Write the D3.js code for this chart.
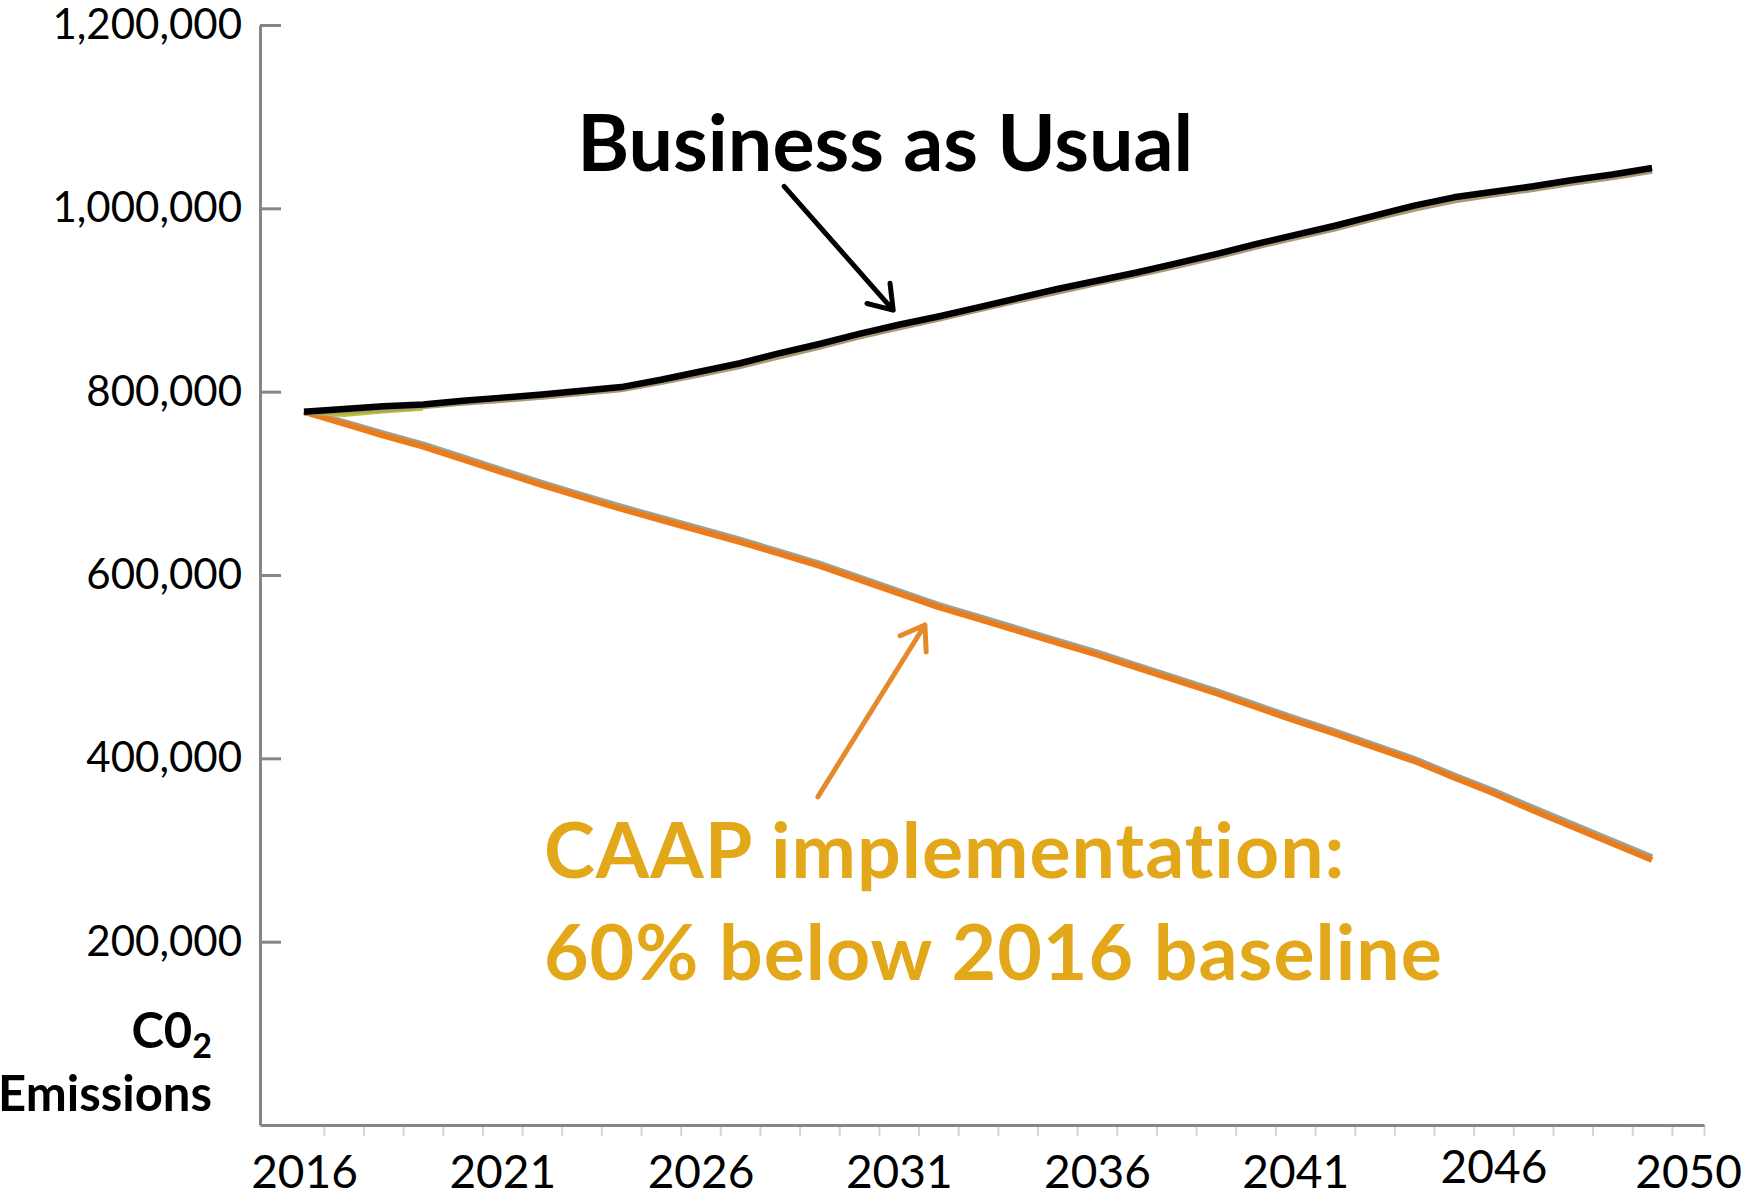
<!DOCTYPE html>
<html>
<head>
<meta charset="utf-8">
<script src="https://cdn.jsdelivr.net/npm/d3@7"></script>
<style>
  body { margin: 0; background: #fff; }
  svg { display: block; font-family: Lato, "Open Sans", sans-serif; font-variant-ligatures: none; }
</style>
</head>
<body>
<div id="chart"></div>
<script>
// CO2 emissions: business as usual vs CAAP implementation
const years = [2016, 2017, 2018, 2019, 2020, 2021, 2022, 2023, 2024, 2025,
    2026, 2027, 2028, 2029, 2030, 2031, 2032, 2033, 2034, 2035,
    2036, 2037, 2038, 2039, 2040, 2041, 2042, 2043, 2044, 2045,
    2046, 2047, 2048, 2049, 2050];

const bauBlack = [778000, 781000, 784000, 786000, 790000, 793500, 797000, 801000, 805000, 813000,
    822000, 831000, 842000, 852000, 863000, 873000, 882000, 892000, 902000, 912000,
    921000, 930000, 940000, 950000, 961000, 971000, 981000, 992000, 1003000, 1012000,
    1018000, 1024000, 1031000, 1037000, 1044000];

const bauTan = [777000, 779000, 781000, 784000, 788000, 791000, 794500, 798500, 802500, 810500,
    819000, 828000, 838500, 849000, 860000, 870000, 879500, 889500, 899500, 909000,
    918500, 927500, 937000, 947000, 958000, 968000, 978000, 989000, 999500, 1008500,
    1015000, 1021000, 1028000, 1034000, 1041000];

const bauGreenYears = [2016, 2017, 2018, 2019];
const bauGreen = [778000, 775000, 779000, 782000];

const caapOrange = [778000, 765000, 752000, 740000, 726000, 712000, 698000, 685000, 672000, 660000,
    648000, 636000, 623000, 610000, 595000, 580000, 565000, 552000, 539000, 526000,
    513000, 499000, 485000, 471000, 456000, 441000, 427000, 412000, 397000, 379000,
    362000, 343000, 325000, 307000, 289000];

const caapGrey = [779000, 767000, 754500, 742500, 728500, 714500, 700500, 687500, 674500, 662500,
    650500, 638500, 625500, 612500, 597500, 582500, 567500, 554500, 541500, 528500,
    515500, 501500, 487500, 473500, 458500, 443500, 429500, 414500, 399500, 381500,
    364500, 346000, 328000, 310000, 292000];

const yTicks = [200000, 400000, 600000, 800000, 1000000, 1200000];
const xLabelYears = [2016, 2021, 2026, 2031, 2036, 2041, 2046, 2050];

const W = 1751, H = 1193;
const x = d3.scaleLinear().domain([2014.89, 2051.31]).range([260, 1704]);
const y = d3.scaleLinear().domain([0, 1200000]).range([1125, 25]);

const svg = d3.select("#chart").append("svg")
    .attr("width", W)
    .attr("height", H);

// y axis, ticks pointing inwards
const yAxis = svg.append("g")
    .attr("transform", `translate(${x.range()[0]},0)`)
    .call(d3.axisLeft(y)
        .tickValues(yTicks)
        .tickSizeInner(-21)
        .tickSizeOuter(0)
        .tickPadding(18)
        .tickFormat(d3.format(",")));
yAxis.select(".domain").attr("stroke", "#868686").attr("stroke-width", 3);
yAxis.selectAll(".tick line").attr("stroke", "#868686").attr("stroke-width", 3);
yAxis.selectAll(".tick text")
    .attr("fill", "#000")
    .style("font-size", "42px")
    .style("font-family", "Lato, sans-serif");

// x axis: minor ticks between categories
const minorTicks = d3.range(2016.5, 2051, 1).concat([x.domain()[1]]);
const xAxis = svg.append("g")
    .attr("transform", `translate(0,${y(0)})`)
    .call(d3.axisBottom(x)
        .tickValues(minorTicks)
        .tickSize(11)
        .tickSizeOuter(0)
        .tickFormat(""));
xAxis.selectAll(".tick line").attr("stroke", "#d4d4d4").attr("stroke-width", 2);
xAxis.select(".domain").attr("stroke", "#868686").attr("stroke-width", 3).raise();

const xLabels = svg.append("g")
    .attr("transform", `translate(0,${y(0)})`)
    .call(d3.axisBottom(x)
        .tickValues(xLabelYears)
        .tickSize(0)
        .tickPadding(37)
        .tickFormat(d3.format("d")));
xLabels.select(".domain").remove();
xLabels.selectAll(".tick text")
    .attr("fill", "#000")
    .style("font-size", "46px")
    .style("font-family", "Lato, sans-serif")
    .attr("dx", d => d === 2050 ? 36 : 0)
    .attr("dy", d => d === 2046 ? "0.45em" : "0.56em");

// lines
const line = d3.line()
    .x(d => x(d[0]))
    .y(d => y(d[1]));

const series = [
    { name: "CAAP grey", xs: years, values: caapGrey, color: "#99a39a", width: 6 },
    { name: "CAAP", xs: years, values: caapOrange, color: "#ec7c1a", width: 6 },
    { name: "BAU green", xs: bauGreenYears, values: bauGreen, color: "#b9c42c", width: 5 },
    { name: "BAU tan", xs: years, values: bauTan, color: "#a89a74", width: 6 },
    { name: "BAU", xs: years, values: bauBlack, color: "#000000", width: 6.5 }
];

svg.append("g")
    .selectAll("path")
    .data(series)
    .join("path")
    .attr("d", s => line(s.xs.map((yr, i) => [yr, s.values[i]])))
    .attr("fill", "none")
    .attr("stroke", s => s.color)
    .attr("stroke-width", s => s.width)
    .attr("stroke-linejoin", "round")
    .attr("stroke-linecap", "butt");

// annotation arrows (in data units)
const arrows = [
    { from: [2028.11, 1024000], to: [2030.86, 889000], color: "#000", width: 5 },
    { from: [2028.96, 358000], to: [2031.66, 545500], color: "#e58a2a", width: 5 }
];

arrows.forEach(a => {
    const x1 = x(a.from[0]), y1 = y(a.from[1]);
    const x2 = x(a.to[0]), y2 = y(a.to[1]);
    const ang = Math.atan2(y1 - y2, x1 - x2);
    const len = 27, spread = Math.PI / 5.2;
    const h1 = [x2 + len * Math.cos(ang + spread), y2 + len * Math.sin(ang + spread)];
    const h2 = [x2 + len * Math.cos(ang - spread), y2 + len * Math.sin(ang - spread)];
    svg.append("path")
        .attr("d", `M${x1},${y1}L${x2},${y2}M${h1[0]},${h1[1]}L${x2},${y2}L${h2[0]},${h2[1]}`)
        .attr("fill", "none")
        .attr("stroke", a.color)
        .attr("stroke-width", a.width)
        .attr("stroke-linecap", "round")
        .attr("stroke-linejoin", "round");
});

// annotation labels
svg.append("text")
    .attr("x", x(2022.89))
    .attr("y", y(1040700))
    .attr("fill", "#000")
    .style("font-size", "79px")
    .style("font-weight", "bold")
    .text("Business as Usual");

const caapText = svg.append("text")
    .attr("fill", "#e3a71a")
    .style("font-size", "77px")
    .style("font-weight", "bold")
    .style("letter-spacing", "1px");
caapText.append("tspan")
    .attr("x", x(2022.05))
    .attr("y", y(269500))
    .text("CAAP implementation:");
caapText.append("tspan")
    .attr("x", x(2022.05))
    .attr("y", y(158200))
    .text("60% below 2016 baseline");

// y axis title
const yTitle = svg.append("text")
    .attr("text-anchor", "end")
    .attr("fill", "#000")
    .style("font-weight", "bold")
    .style("font-size", "49px");
yTitle.append("tspan")
    .attr("x", 212)
    .attr("y", 1048)
    .text("C0")
    .append("tspan")
    .attr("dy", 10)
    .style("font-size", "34px")
    .text("2");
yTitle.append("tspan")
    .attr("x", 212)
    .attr("y", 1111)
    .text("Emissions");
</script>
</body>
</html>
